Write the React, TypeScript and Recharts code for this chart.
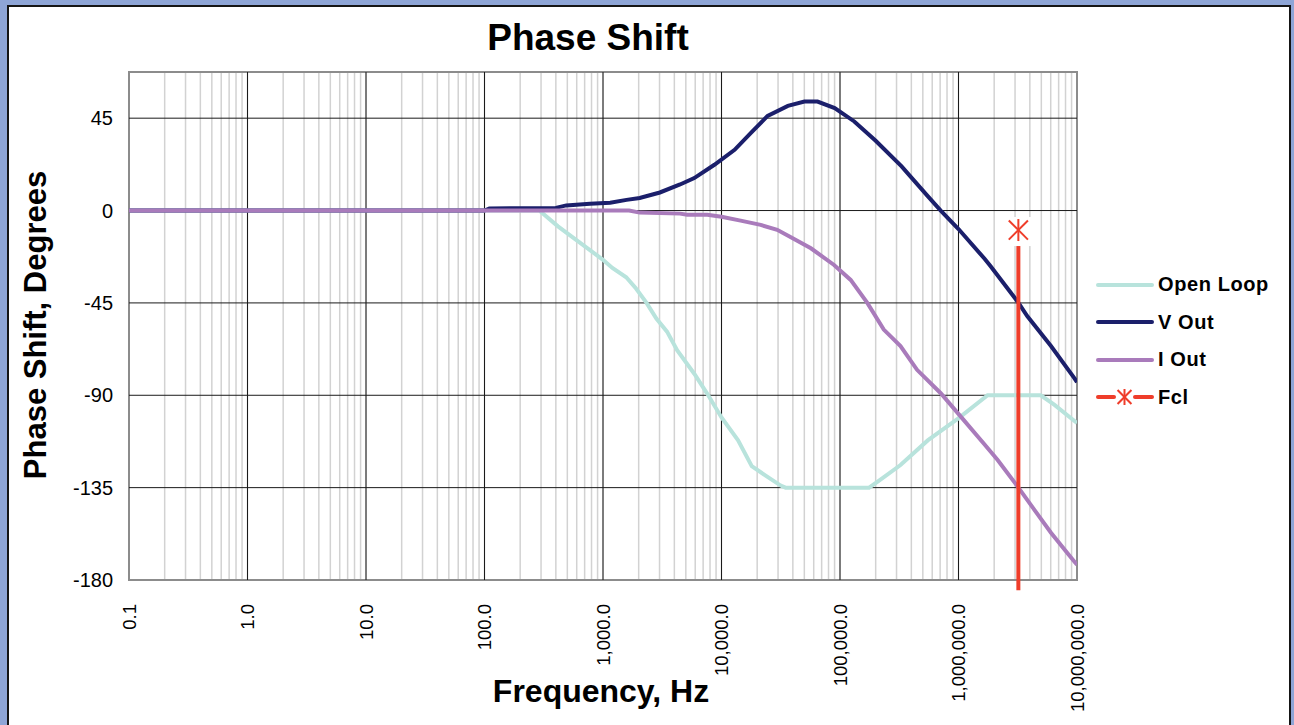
import React from "react";
import { ComposedChart, Line, Scatter, XAxis, YAxis, CartesianGrid, ReferenceLine, ReferenceArea } from "recharts";

// frequencies in Hz, phase in degrees
const openLoopFreq = [0.1, 290, 417, 617, 1000, 1200, 1570, 1900, 2330, 2820, 3470, 4220, 5890, 7590, 10000, 13800, 18000, 23400, 31600, 34700, 176000, 221000, 324000, 550000, 1010000, 1760000, 4950000, 6460000, 10000000];
const openLoopPhase = [0, 0, -7.7, -15, -24, -28, -32.5, -38, -45, -52.6, -59, -68, -79.5, -89.3, -100.8, -112, -124.5, -129, -134, -135, -135, -131, -124, -112, -101, -90, -90, -94.7, -103.5];

const vOutFreq = [0.1, 100, 110, 400, 490, 776, 1150, 1580, 2040, 3020, 4470, 5890, 8710, 12900, 17800, 24500, 36300, 50100, 64600, 90200, 132000, 200000, 331000, 550000, 708000, 1000000, 1660000, 1860000, 3160000, 3800000, 6030000, 9460000, 10000000];
const vOutPhase = [0, 0, 1, 1.3, 2.5, 3.3, 3.8, 5.2, 6.1, 8.8, 12.7, 15.8, 22.3, 29.6, 38, 46.1, 51, 53.1, 53.1, 49.9, 43.4, 34, 21.5, 7, 0, -9, -23.5, -27, -44.4, -51.4, -66, -81.5, -83.6];

const iOutFreq = [0.1, 1660, 2040, 4470, 5130, 7590, 10000, 14500, 21400, 29500, 38500, 56800, 89100, 123000, 170000, 234000, 324000, 447000, 708000, 1050000, 1660000, 2140000, 3160000, 4370000, 6030000, 8320000, 10000000];
const iOutPhase = [0, 0, -1, -1.5, -2, -2, -3, -4.9, -7, -9.4, -13, -18.4, -26.5, -33.8, -45, -58, -66, -77.6, -89, -100.5, -114, -121.5, -134.5, -145.8, -157, -167, -172.6];

const fclFreq = 3200000;
const fclMarker = -9.5;
const fclLineTop = -17;
const fclLineBottom = -185;

const xDecades = [0.1, 1, 10, 100, 1000, 10000, 100000, 1000000, 10000000];
const xTickLabels = ["0.1", "1.0", "10.0", "100.0", "1,000.0", "10,000.0", "100,000.0", "1,000,000.0", "10,000,000.0"];
const yTicks = [45, 0, -45, -90, -135, -180];
const yTickLabels = ["45", "0", "-45", "-90", "-135", "-180"];
const yDomain: [number, number] = [-180, 67.5];

const minorTicks: number[] = [];
xDecades.slice(0, -1).forEach((d) => {
  for (let k = 2; k <= 9; k++) minorTicks.push(+(d * k).toPrecision(3));
});
const allTicks = [...xDecades, ...minorTicks].sort((a, b) => a - b);

const toPts = (fs: number[], vs: number[]) => fs.map((f, i) => ({ f, v: vs[i] }));
const openLoop = toPts(openLoopFreq, openLoopPhase);
const vOut = toPts(vOutFreq, vOutPhase);
const iOut = toPts(iOutFreq, iOutPhase);
const fcl = [{ f: fclFreq, v: fclMarker }];

const C_OPEN = "#b8e3dc";
const C_VOUT = "#1b1f6b";
const C_IOUT = "#a97bbb";
const C_FCL = "#ef3d2a";
const FONT = '"Liberation Sans", Arial, sans-serif';

const XTick = (props: any) => {
  const { x, y, payload } = props;
  const i = xDecades.indexOf(payload.value);
  if (i < 0) return null;
  return (
    <text x={x} y={y + 16} transform={`rotate(-90, ${x}, ${y + 16})`} textAnchor="end" dy="0.36em" fontSize={18.5} fontFamily={FONT} fill="#000">
      {xTickLabels[i]}
    </text>
  );
};

const YTick = (props: any) => {
  const { x, y, payload } = props;
  const i = yTicks.indexOf(payload.value);
  return (
    <text x={x} y={y} textAnchor="end" dy="0.36em" fontSize={20} fontFamily={FONT} fill="#000">
      {yTickLabels[i]}
    </text>
  );
};

const Star = ({ cx, cy, r = 11, withBg = true }: any) => (
  <g>
    {withBg && <rect x={cx - 14} y={cy - 13} width={28} height={29} fill="#fff" />}
    <line x1={cx} y1={cy - r} x2={cx} y2={cy + r} stroke={C_FCL} strokeWidth={2} />
    <line x1={cx - r * 0.87} y1={cy - r * 0.87} x2={cx + r * 0.87} y2={cy + r * 0.87} stroke={C_FCL} strokeWidth={2} />
    <line x1={cx - r * 0.87} y1={cy + r * 0.87} x2={cx + r * 0.87} y2={cy - r * 0.87} stroke={C_FCL} strokeWidth={2} />
  </g>
);

const legendItems = [
  { name: "Open Loop", color: C_OPEN, star: false },
  { name: "V Out", color: C_VOUT, star: false },
  { name: "I Out", color: C_IOUT, star: false },
  { name: "Fcl", color: C_FCL, star: true },
];

export default function App() {
  return (
    <div style={{ position: "fixed", left: 0, top: 0, width: 1294, height: 725, background: "#8ea5d6", overflow: "hidden", fontFamily: FONT }}>
      <div style={{ position: "absolute", left: 7, top: 5, width: 1280, height: 740, background: "#fff", border: "2px solid #151515" }} />
      <div style={{ position: "absolute", left: 388, width: 400, top: 19, textAlign: "center", fontSize: 37, fontWeight: "bold", lineHeight: "37px" }}>
        Phase Shift
      </div>
      <div style={{ position: "absolute", left: 35, top: 325, transform: "translate(-50%, -50%) rotate(-90deg)", whiteSpace: "nowrap", fontSize: 31, fontWeight: "bold", lineHeight: "31px" }}>
        Phase Shift, Degrees
      </div>
      <div style={{ position: "absolute", left: 401, width: 400, top: 675, textAlign: "center", fontSize: 32, fontWeight: "bold", lineHeight: "32px" }}>
        Frequency, Hz
      </div>
      <div style={{ position: "absolute", left: 0, top: 0 }}>
        <ComposedChart width={1294} height={725} margin={{ top: 72, right: 217, bottom: 25, left: 69 }}>
          <CartesianGrid stroke="#d2d2d2" strokeWidth={1.5} horizontal={false} />
          {xDecades.slice(1, -1).map((d) => (
            <ReferenceLine key={"vx" + d} x={d} stroke="#1a1a1a" strokeWidth={1} />
          ))}
          {yTicks.slice(0, -1).map((t) => (
            <ReferenceLine key={"hy" + t} y={t} stroke="#1a1a1a" strokeWidth={1} />
          ))}
          <ReferenceArea x1={xDecades[0]} x2={xDecades[xDecades.length - 1]} y1={yDomain[0]} y2={yDomain[1]} fill="none" fillOpacity={0} stroke="#8c8c8c" strokeWidth={2} />
          <XAxis dataKey="f" type="number" scale="log" domain={[0.1, 10000000]} ticks={allTicks} tick={<XTick />} tickLine={false} axisLine={false} height={120} interval={0} allowDataOverflow />
          <YAxis dataKey="v" type="number" domain={yDomain} ticks={yTicks} tick={<YTick />} tickLine={false} axisLine={false} width={60} tickSize={0} tickMargin={16} interval={0} allowDataOverflow />
          <Line data={openLoop} dataKey="v" type="linear" stroke={C_OPEN} strokeWidth={4} dot={false} isAnimationActive={false} />
          <Line data={vOut} dataKey="v" type="linear" stroke={C_VOUT} strokeWidth={4} dot={false} isAnimationActive={false} />
          <Line data={iOut} dataKey="v" type="linear" stroke={C_IOUT} strokeWidth={4} dot={false} isAnimationActive={false} />
          <ReferenceLine segment={[{ x: fclFreq, y: fclLineTop }, { x: fclFreq, y: fclLineBottom }]} stroke={C_FCL} strokeWidth={4} ifOverflow="visible" />
          <Scatter data={fcl} dataKey="v" shape={(p: any) => <Star cx={p.cx} cy={p.cy} />} isAnimationActive={false} />
        </ComposedChart>
      </div>
      <div style={{ position: "absolute", left: 1095, top: 266 }}>
        {legendItems.map((it) => (
          <div key={it.name} style={{ display: "flex", alignItems: "center", height: 37.5 }}>
            <svg width={62} height={20}>
              {it.star ? (
                <>
                  <line x1={3} y1={10} x2={19} y2={10} stroke={it.color} strokeWidth={4} strokeLinecap="round" />
                  <line x1={40} y1={10} x2={57} y2={10} stroke={it.color} strokeWidth={4} strokeLinecap="round" />
                  <Star cx={29.5} cy={10} r={8} withBg={false} />
                </>
              ) : (
                <line x1={3} y1={10} x2={57} y2={10} stroke={it.color} strokeWidth={4} strokeLinecap="round" />
              )}
            </svg>
            <span style={{ fontSize: 20, fontWeight: "bold", letterSpacing: 0.6, marginLeft: 1 }}>{it.name}</span>
          </div>
        ))}
      </div>
    </div>
  );
}
